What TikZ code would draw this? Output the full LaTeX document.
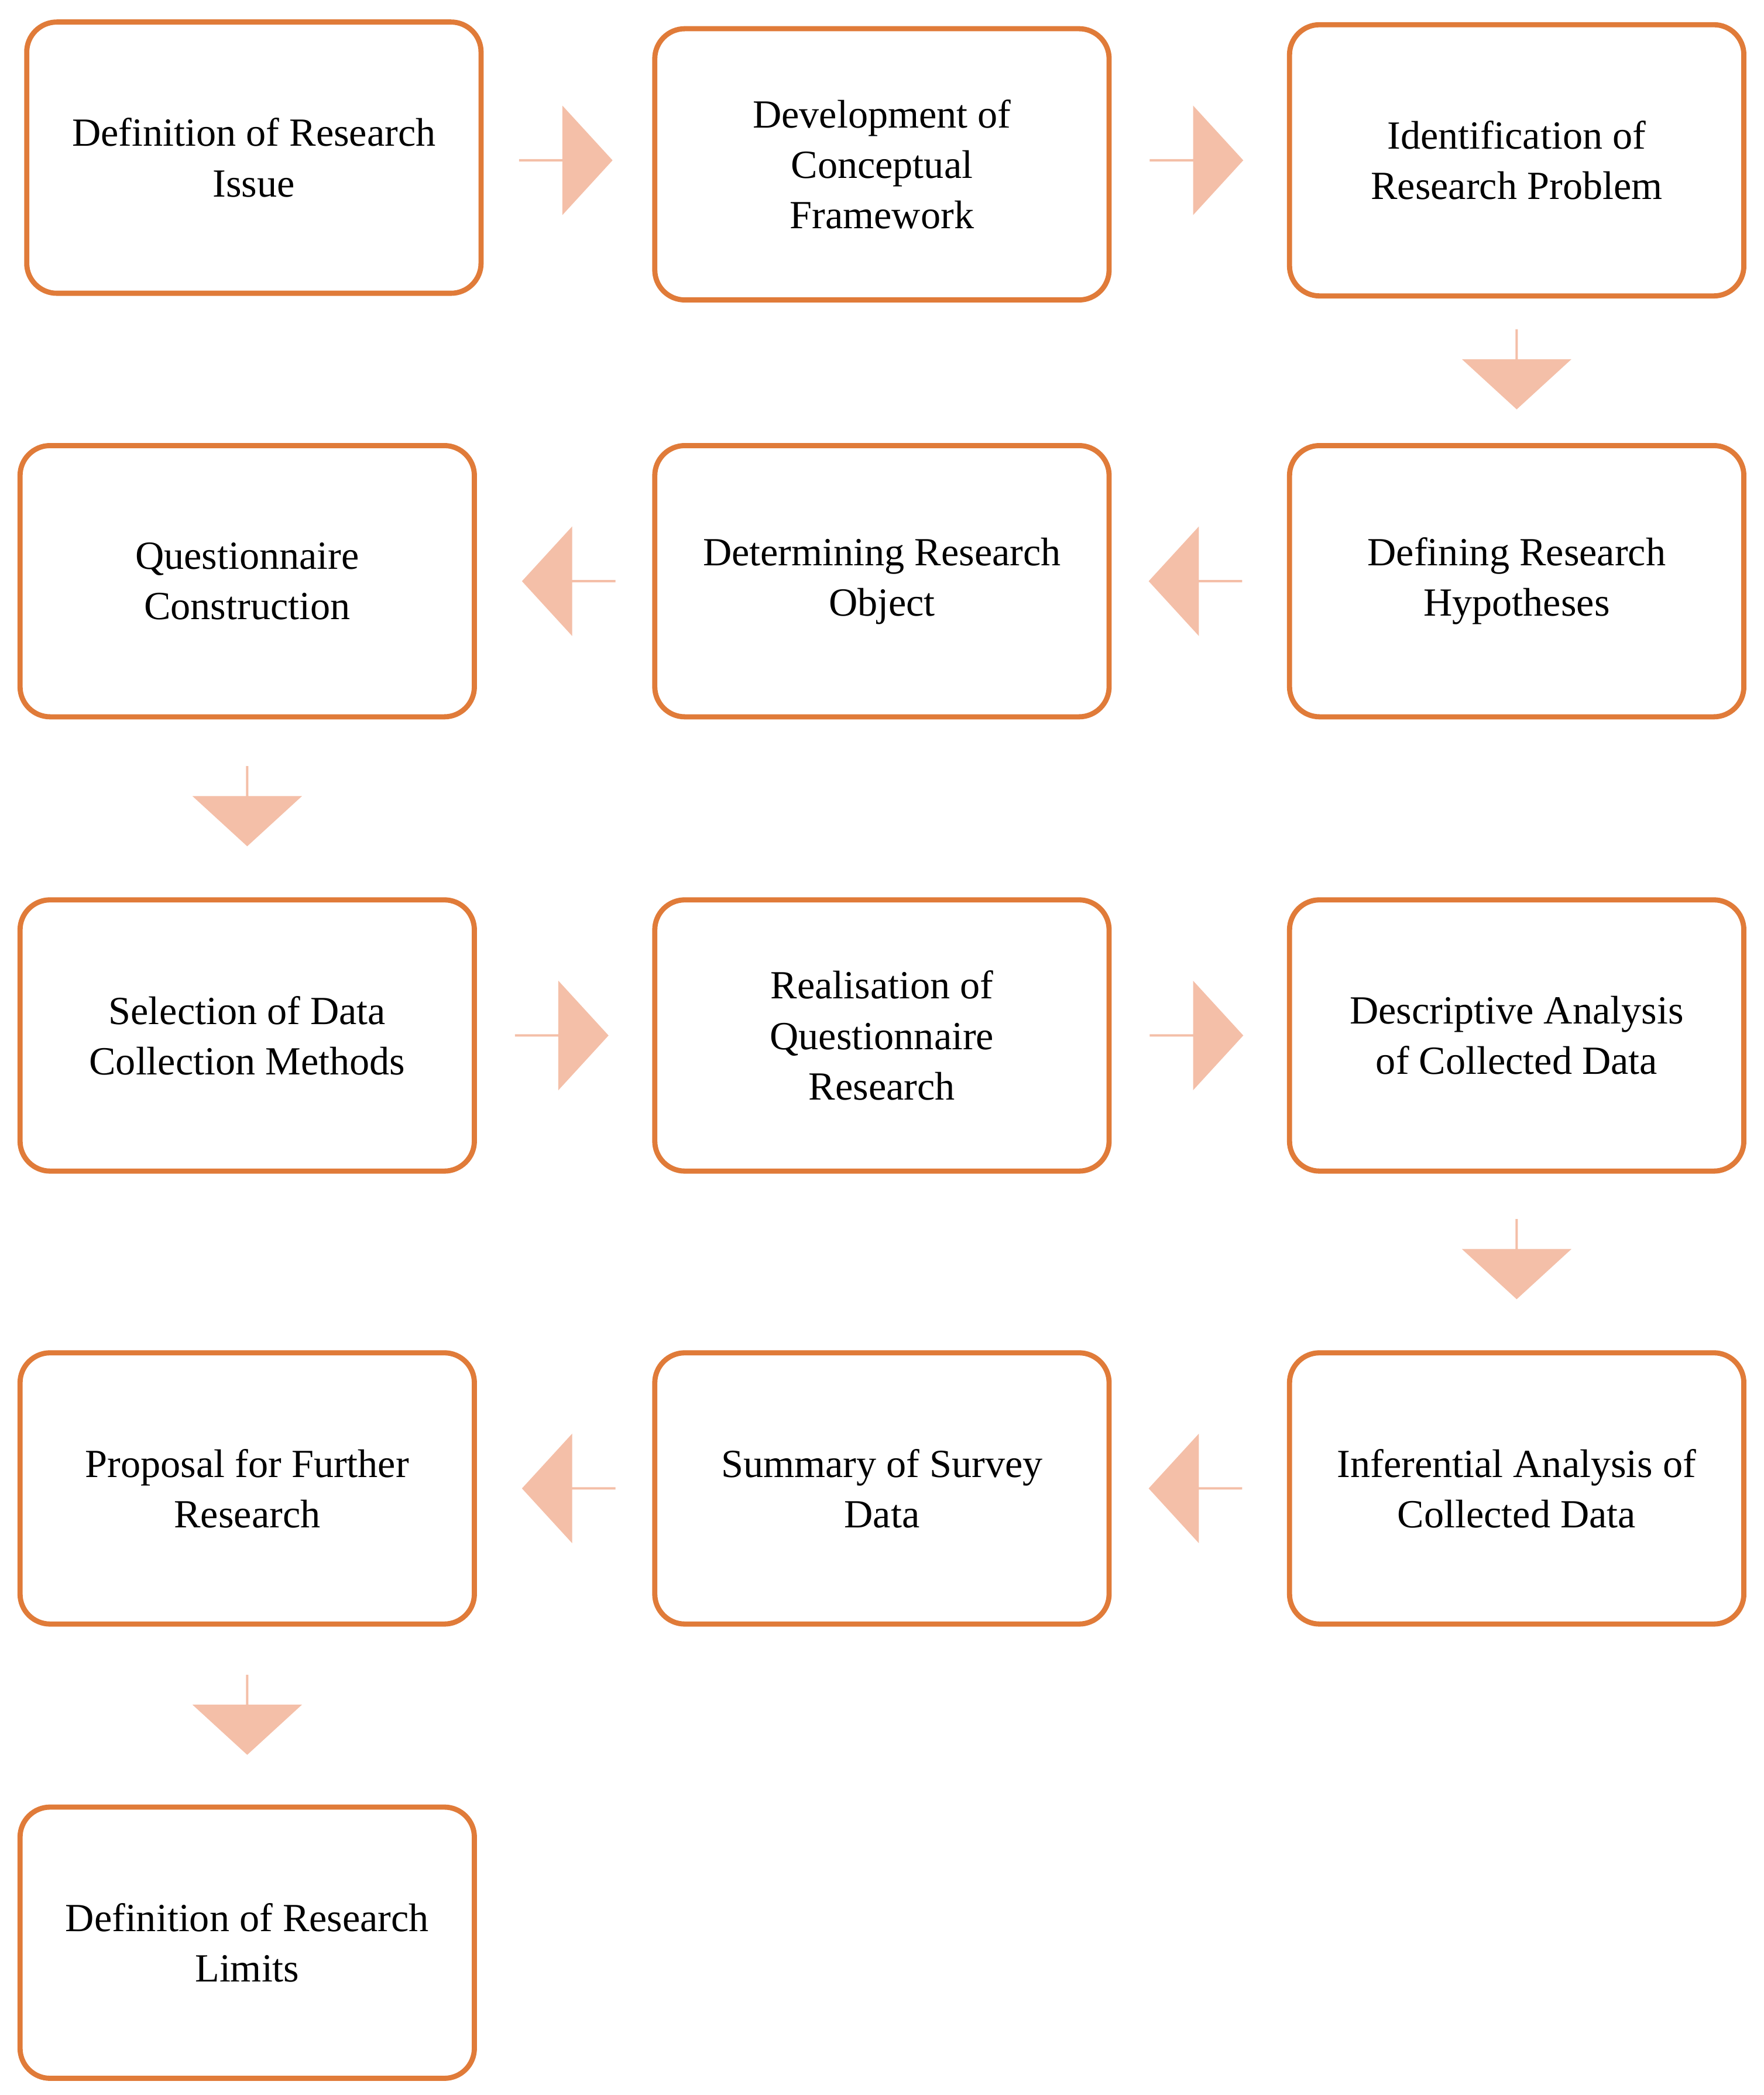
\documentclass[tikz,border=0pt]{standalone}
\usepackage{fontspec}
\setmainfont{Liberation Serif}
\usetikzlibrary{shapes.arrows}
\definecolor{bord}{HTML}{E07B39}
\definecolor{arr}{HTML}{F4BFA8}
\begin{document}
\begin{tikzpicture}[
 box/.style={draw=bord,line width=2.2pt,rounded corners=0.45cm,minimum width=6.8cm,minimum height=4.06cm,align=center,font=\fontsize{17}{21.5}\selectfont},
 ar/.style={single arrow,fill=arr,draw=none,minimum height=1.4cm,minimum width=1.64cm,single arrow head extend=0.32cm,single arrow tip angle=95,inner sep=0pt},
 dar/.style={ar,minimum height=1.2cm,rotate=-90}]
\useasboundingbox (0,0) rectangle (26.4,-31.36);
\node[box] (b1) at (3.8,-2.36) {Definition of Research\\Issue};
\node[box] (b2) at (13.2,-2.46) {Development of\\Conceptual\\Framework};
\node[box] (b3) at (22.7,-2.4) {Identification of\\Research Problem};
\node[box] (b4) at (3.7,-8.7) {Questionnaire\\Construction};
\node[box] (b5) at (13.2,-8.7) {Determining Research\\Object};
\node[box] (b6) at (22.7,-8.7) {Defining Research\\Hypotheses};
\node[box] (b7) at (3.7,-15.5) {Selection of Data\\Collection Methods};
\node[box] (b8) at (13.2,-15.5) {Realisation of\\Questionnaire\\Research};
\node[box] (b9) at (22.7,-15.5) {Descriptive Analysis\\of Collected Data};
\node[box] (b10) at (3.7,-22.28) {Proposal for Further\\Research};
\node[box] (b11) at (13.2,-22.28) {Summary of Survey\\Data};
\node[box] (b12) at (22.7,-22.28) {Inferential Analysis of\\Collected Data};
\node[box] (b13) at (3.7,-29.08) {Definition of Research\\Limits};
\node[ar] (a1) at (8.46,-2.4) {};
\node[ar] (a2) at (17.9,-2.4) {};
\node[dar] (a3) at (22.7,-5.52) {};
\node[ar,shape border rotate=180] (a4) at (17.9,-8.7) {};
\node[ar,shape border rotate=180] (a5) at (8.52,-8.7) {};
\node[dar] (a6) at (3.7,-12.06) {};
\node[ar] (a7) at (8.4,-15.5) {};
\node[ar] (a8) at (17.9,-15.5) {};
\node[dar] (a9) at (22.7,-18.84) {};
\node[ar,shape border rotate=180] (a10) at (17.9,-22.28) {};
\node[ar,shape border rotate=180] (a11) at (8.52,-22.28) {};
\node[dar] (a12) at (3.7,-25.66) {};
\end{tikzpicture}
\end{document}
